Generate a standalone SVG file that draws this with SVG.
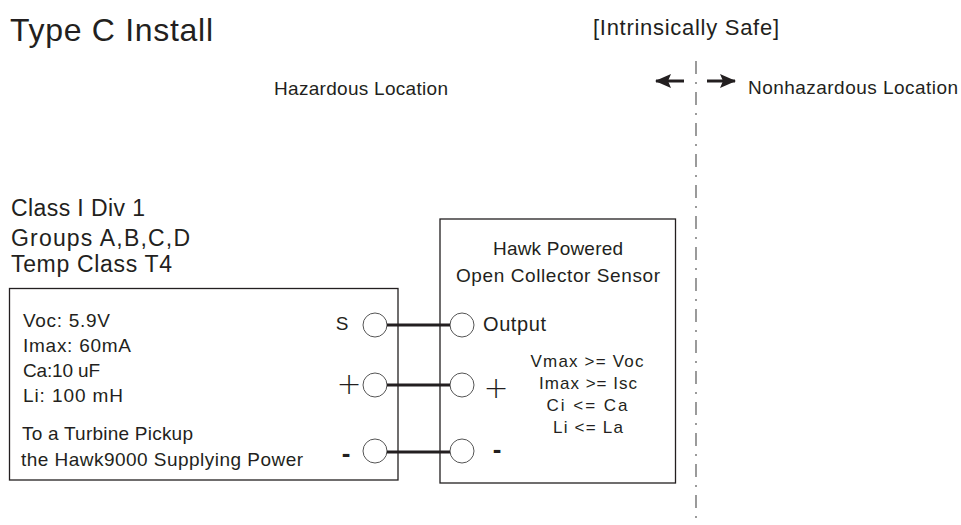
<svg xmlns="http://www.w3.org/2000/svg" width="961" height="525" viewBox="0 0 961 525">
<style>
text{font-family:"Liberation Sans",Arial,sans-serif;fill:#231f20}
.box{fill:#fff;stroke:#231f20;stroke-width:1.3}
.term{fill:#fff;stroke:#555;stroke-width:1}
.wire{stroke:#231f20;stroke-width:3;fill:none}
.mid{text-anchor:middle}
.plus{font-family:"DejaVu Sans","Liberation Sans",sans-serif;font-weight:200;text-anchor:middle}
.arrow{stroke:#231f20;stroke-width:3;marker-end:url(#ah)}
</style>
<defs>
<marker id="ah" viewBox="0 0 16 14" refX="15" refY="7" markerWidth="16" markerHeight="14" markerUnits="userSpaceOnUse" orient="auto">
<path d="M0,0 L16,7 L0,14 L3,7 Z" fill="#231f20"/>
</marker>
</defs>
<rect width="961" height="525" fill="#fff"/>
<g id="title">
<text x="10" y="41" font-size="32" textLength="203">Type C Install</text>
</g>
<g id="zones">
<text x="274" y="95" font-size="19" textLength="174">Hazardous Location</text>
<text x="593" y="35" font-size="22" textLength="186">[Intrinsically Safe]</text>
<text x="748" y="94" font-size="19" textLength="210">Nonhazardous Location</text>
<line x1="696" y1="61" x2="696" y2="523" stroke="#666" stroke-width="1.3" stroke-dasharray="13 8 2 8"/>
<line class="arrow" x1="684" y1="81" x2="656" y2="81"/>
<line class="arrow" x1="707" y1="81" x2="735" y2="81"/>
</g>
<g id="classification">
<text x="11" y="216" font-size="23" textLength="134">Class I Div 1</text>
<text x="11" y="246" font-size="23" textLength="179">Groups A,B,C,D</text>
<text x="11" y="272" font-size="23" textLength="161">Temp Class T4</text>
</g>
<g id="hawk9000">
<rect class="box" x="9.5" y="288.5" width="388.5" height="191.5"/>
<text x="23" y="327" font-size="19" textLength="87">Voc: 5.9V</text>
<text x="23" y="352" font-size="19" textLength="108">Imax: 60mA</text>
<text x="23" y="377" font-size="19" textLength="77">Ca:10 uF</text>
<text x="23" y="402" font-size="19" textLength="100">Li: 100 mH</text>
<text x="22" y="440" font-size="19" textLength="171">To a Turbine Pickup</text>
<text x="21" y="466" font-size="19" textLength="282">the Hawk9000 Supplying Power</text>
<text x="342" y="330" font-size="19" class="mid">S</text>
<text x="349" y="394" font-size="30" class="plus">+</text>
<text x="346" y="462" font-size="26" font-weight="bold" class="mid">-</text>
<circle class="term" cx="375" cy="325" r="12"/>
<circle class="term" cx="375" cy="385" r="12"/>
<circle class="term" cx="375" cy="451" r="12"/>
</g>
<g id="sensor">
<rect class="box" x="440" y="219" width="235.5" height="264"/>
<text x="558" y="255" font-size="19" class="mid" textLength="130">Hawk Powered</text>
<text x="558" y="282" font-size="19" class="mid" textLength="204">Open Collector Sensor</text>
<text x="483" y="331" font-size="20" textLength="63">Output</text>
<text x="496" y="398" font-size="30" class="plus">+</text>
<text x="497" y="458" font-size="26" font-weight="bold" class="mid">-</text>
<text x="587" y="367" font-size="17" class="mid" textLength="113">Vmax &gt;= Voc</text>
<text x="588" y="389" font-size="17" class="mid" textLength="98">Imax &gt;= Isc</text>
<text x="587" y="411" font-size="17" class="mid" textLength="81">Ci &lt;= Ca</text>
<text x="588" y="433" font-size="17" class="mid" textLength="70">Li &lt;= La</text>
<circle class="term" cx="462" cy="325" r="12"/>
<circle class="term" cx="462" cy="385" r="12"/>
<circle class="term" cx="462" cy="451" r="12"/>
</g>
<g id="connectors">
<line class="wire" x1="387" y1="325" x2="450" y2="325"/>
<line class="wire" x1="387" y1="385" x2="450" y2="385"/>
<line class="wire" x1="387" y1="452" x2="450" y2="452"/>
</g>
</svg>
